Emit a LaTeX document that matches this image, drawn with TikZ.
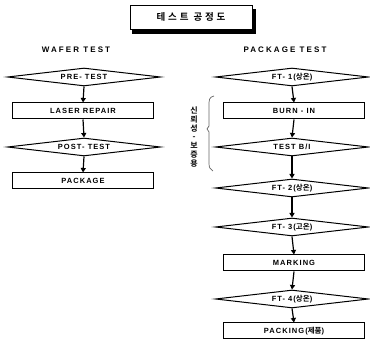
\documentclass[tikz,border=0pt]{standalone}
\usepackage{fontspec}
\setmainfont{Liberation Sans}
\newfontfamily\latf[LetterSpace=14]{Liberation Sans}
\newfontfamily\headf[LetterSpace=26]{Liberation Sans}
\newfontfamily\krf{Noto Sans CJK KR}[BoldFont={Noto Sans CJK KR Bold}]
\newfontfamily\krtf{Noto Sans CJK KR}[LetterSpace=30,BoldFont={Noto Sans CJK KR Bold}]
\newcommand\ko[1]{{\krf\bfseries #1}}
\usetikzlibrary{arrows.meta,shapes.geometric}
\begin{document}
\begin{tikzpicture}[x=1pt,y=-1pt,
  lbl/.style={font=\latf\bfseries\fontsize{7.5}{9}\selectfont},
  hdr/.style={font=\headf\bfseries\fontsize{8}{9}\selectfont},
  dia/.style={lbl, diamond, draw, line width=1pt, aspect=8.5,
     minimum width=153pt, minimum height=18pt, inner sep=0pt},
  boxn/.style={lbl, rectangle, draw, line width=1pt,
     minimum width=141pt, minimum height=16pt, inner sep=0pt},
  arr/.style={line width=1.2pt, -{Triangle[length=4.5pt,width=5pt]}},
  brace/.style={draw=black!60, line width=0.7pt},
  vtxt/.style={font=\krf\bfseries\fontsize{8}{8.8}\selectfont, align=center, inner sep=0pt}]
\useasboundingbox (0,0) rectangle (370,344);

% title
\fill[black] (132,9) rectangle (256,34);
\node[draw, fill=white, line width=0.8pt, minimum width=122pt, minimum height=24pt, inner sep=0pt,
  font=\krtf\bfseries\fontsize{9.5}{10}\selectfont] (title) at (191,17) {테스트 공정도};

% headers
\node[hdr] (hw) at (76,50) {WAFER TEST};
\node[hdr] (hp) at (285,50) {PACKAGE TEST};

% wafer test column
\node[dia]  (pre)   at (84,77)  {PRE- TEST};
\node[boxn] (laser) at (83,111) {LASER REPAIR};
\node[dia]  (post)  at (84,147) {POST- TEST};
\node[boxn] (pkg)   at (83,181) {PACKAGE};

\draw[arr] (pre.south) -- (laser.north);
\draw[arr] (laser.south) -- (post.north);
\draw[arr] (post.south) -- (pkg.north);

% package test column
\node[dia]  (ft1)  at (292,77)  {FT- 1(\ko{상온})};
\node[boxn] (burn) at (294,111) {BURN - IN};
\node[dia]  (tbi)  at (292,147) {TEST B/I};
\node[dia]  (ft2)  at (292,188) {FT- 2(\ko{상온})};
\node[dia]  (ft3)  at (292,227) {FT- 3(\ko{고온})};
\node[boxn] (mark) at (294,263) {MARKING};
\node[dia]  (ft4)  at (292,299) {FT- 4(\ko{상온})};
\node[boxn] (pack) at (294,331) {PACKING(\ko{제품})};

\draw[arr] (ft1.south) -- (burn.north);
\draw[arr] (burn.south) -- (tbi.north);
\draw[arr] (tbi.south) -- (ft2.north);
\draw[arr] (ft2.south) -- (ft3.north);
\draw[arr] (ft3.south) -- (mark.north);
\draw[arr] (mark.south) -- (ft4.north);
\draw[arr] (ft4.south) -- (pack.north);

% bracket and vertical label
\draw[brace] (214,96) .. controls (209,97) and (209,100) .. (209,106) -- (209,126)
  -- (207,129) -- (209,132) -- (209,163) .. controls (209,168) and (210,169) .. (213,171);
\node[vtxt] (vlab) at (194,137) {신\\뢰\\성\\-\\보\\증\\용};
\end{tikzpicture}
\end{document}
